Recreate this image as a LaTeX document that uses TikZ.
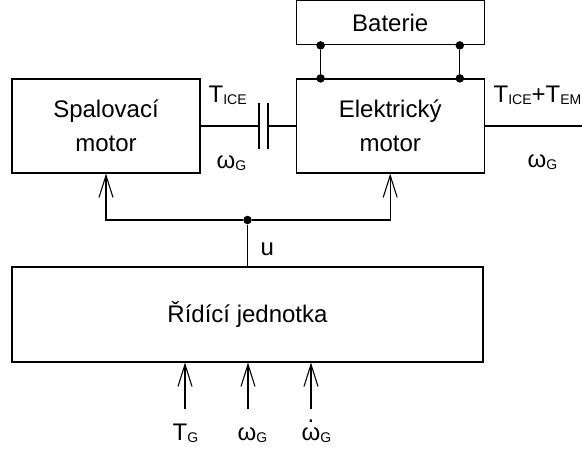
\documentclass[tikz,border=0pt]{standalone}
\usepackage{fontspec}
\setmainfont{Liberation Sans}
\usetikzlibrary{arrows.meta,positioning,calc}
\newcommand\idx[1]{\raisebox{-0.2ex}{\fontsize{14}{14}\selectfont #1}}
\newcommand\wdot{\ooalign{ω\cr\hfil\raisebox{0.72em}{.}\hfil\cr}}

\begin{document}
\begin{tikzpicture}[x=1pt,y=-1pt,
      font=\fontsize{24}{34}\selectfont,line width=1.2pt,
      box/.style={draw,align=center,minimum width=188pt,minimum height=94pt,
                  inner sep=0pt},
      lbl/.style={anchor=base west,inner sep=0pt},
      dot/.style={circle,fill,inner sep=0pt,minimum size=8.5pt},
      arr/.style={-{Straight Barb[length=22pt,width=14pt,line width=1.1pt]}}]
    \useasboundingbox (0,0) rectangle (582,450);
    \node[box] (spal) at (106,126) {Spalovací\\motor};
    \node[box,right=95pt of spal] (elek) {Elektrický\\motor};
    \node[box,minimum height=44pt,above=33pt of elek] (bat) {Baterie};
    \node[box,minimum width=471pt,minimum height=95pt] (ridici) at (247.5,314.5) {Řídící jednotka};
    % hridel se spojkou
    \coordinate (cplA) at (259,126);
    \coordinate (cplB) at (268,126);
    \coordinate (out) at (582,126);
    \draw (spal.east)--(cplA) (cplB)--(elek.west);
    \draw ($(cplA)+(0,-23)$)--($(cplA)+(0,23)$);
    \draw ($(cplB)+(0,-23)$)--($(cplB)+(0,23)$);
    \draw (elek.east)--(out);
    % baterie
    \node[dot] (b1) at ($(bat.south west)+(25,0)$) {};
    \node[dot] (b2) at ($(bat.south east)+(-25,0)$) {};
    \node[dot] (e1) at ($(elek.north west)+(25,0)$) {};
    \node[dot] (e2) at ($(elek.north east)+(-25,0)$) {};
    \draw (b1)--(e1); \draw (b2)--(e2);
    % rizeni
    \node[dot] (bus) at (247.5,220) {};
    \draw (ridici.north)--(bus);
    \draw[arr] (bus)-|(spal.south);
    \draw[arr] (bus)-|(elek.south);
    \node[lbl] (u) at (260,255) {u};
    % vstupy
    \coordinate (in1) at (185,409);
    \coordinate (in2) at (248,409);
    \coordinate (in3) at (311,409);
    \draw[arr] (in1)--(in1 |- ridici.south);
    \draw[arr] (in2)--(in2 |- ridici.south);
    \draw[arr] (in3)--(in3 |- ridici.south);
    \node[lbl] (tg) at (172,440) {T\idx{G}};
    \node[lbl] (wg) at (237,440) {ω\idx{G}};
    \node[lbl] (wgd) at (301,440) {\wdot\idx{G}};
    % popisky hridele
    \node[lbl] (tice) at (208,102) {T\idx{ICE}};
    \node[lbl] (wice) at (216,168) {ω\idx{G}};
    \node[lbl] (tout) at (493,102) {T\idx{ICE}+T\idx{EM}};
    \node[lbl] (wout) at (527,167) {ω\idx{G}};
  \end{tikzpicture}
\end{document}
